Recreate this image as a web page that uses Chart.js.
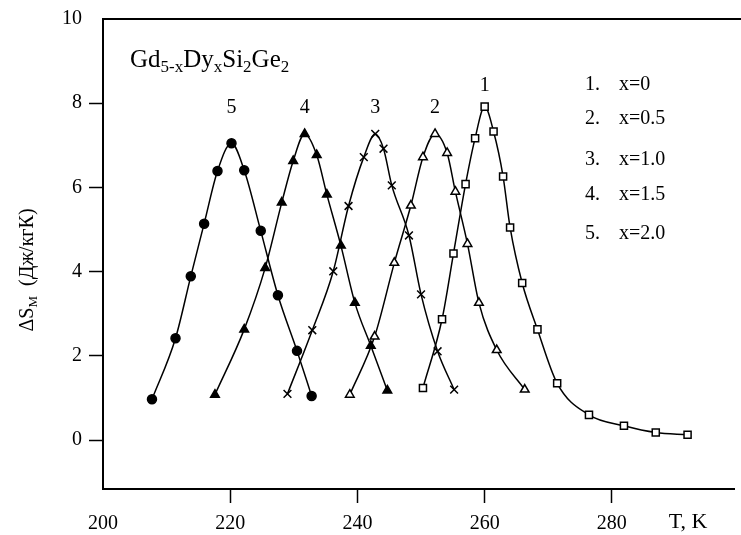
<!DOCTYPE html>
<html><head><meta charset="utf-8">
<script src="https://cdn.jsdelivr.net/npm/chart.js@4/dist/chart.umd.min.js"></script>
<style>html,body{margin:0;padding:0;background:#fff}#wrap{width:741px;height:535px;position:relative}</style>
</head><body><div id="wrap"><canvas id="c"></canvas></div>
<script>
// Data
const seriesNames = ["1", "2", "3", "4", "5"];
const legendNums = ["1.", "2.", "3.", "4.", "5."];
const legendTexts = ["x=0", "x=0.5", "x=1.0", "x=1.5", "x=2.0"];

const T1 = [250.3, 253.3, 255.1, 257.0, 258.5, 260.0, 261.4, 262.9, 264.0, 265.9, 268.3, 271.4, 276.4, 281.9, 286.9, 291.9];
const S1 = [1.24, 2.87, 4.43, 6.08, 7.17, 7.92, 7.33, 6.26, 5.05, 3.73, 2.63, 1.35, 0.60, 0.34, 0.18, 0.13];

const T2 = [238.8, 242.7, 245.8, 248.4, 250.3, 252.2, 254.1, 255.4, 257.3, 259.1, 261.9, 266.3];
const S2 = [1.08, 2.46, 4.21, 5.57, 6.72, 7.27, 6.82, 5.90, 4.66, 3.26, 2.14, 1.20];

const T3 = [229.0, 232.9, 236.2, 238.6, 241.0, 242.8, 244.1, 245.4, 248.1, 250.0, 252.6, 255.2];
const S3 = [1.10, 2.61, 4.01, 5.56, 6.72, 7.27, 6.92, 6.05, 4.86, 3.46, 2.11, 1.20];

const T4 = [217.6, 222.2, 225.5, 228.1, 229.9, 231.7, 233.6, 235.2, 237.4, 239.6, 242.1, 244.7];
const S4 = [1.08, 2.63, 4.09, 5.64, 6.63, 7.27, 6.77, 5.83, 4.62, 3.26, 2.24, 1.18];

const T5 = [207.7, 211.4, 213.8, 215.9, 218.0, 220.2, 222.2, 224.8, 227.5, 230.5, 232.8];
const S5 = [0.97, 2.42, 3.89, 5.14, 6.39, 7.05, 6.41, 4.97, 3.44, 2.12, 1.05];

const xTicks = [200, 220, 240, 260, 280];
const yTicks = [0, 2, 4, 6, 8, 10];

const FONT = "'Liberation Serif', 'DejaVu Serif', serif";

function pts(T, S) { return T.map((t, i) => ({ x: t, y: S[i] })); }

const styles = [
  { pointStyle: 'rect', bg: '#fff', r: 5 },
  { pointStyle: 'triangle', bg: '#fff', r: 5 },
  { pointStyle: 'crossRot', bg: '#fff', r: 5.5 },
  { pointStyle: 'triangle', bg: '#000', r: 5 },
  { pointStyle: 'circle', bg: '#000', r: 4.5 }
];
const allT = [T1, T2, T3, T4, T5];
const allS = [S1, S2, S3, S4, S5];

const datasets = allT.map((T, i) => ({
  label: seriesNames[i],
  data: pts(T, allS[i]),
  showLine: true,
  borderColor: '#000',
  borderWidth: 1.5,
  cubicInterpolationMode: 'monotone',
  pointStyle: styles[i].pointStyle,
  pointRadius: styles[i].r,
  pointBackgroundColor: styles[i].bg,
  pointBorderColor: '#000',
  pointBorderWidth: 1.5
}));

function drawRich(ctx, parts, x, y, align) {
  let w = 0;
  parts.forEach(p => { ctx.font = p.size + 'px ' + FONT; w += ctx.measureText(p.t).width; });
  let cx = align === 'center' ? x - w / 2 : x;
  ctx.textAlign = 'left';
  ctx.textBaseline = 'alphabetic';
  parts.forEach(p => {
    ctx.font = p.size + 'px ' + FONT;
    ctx.fillText(p.t, cx, y + (p.dy || 0));
    cx += ctx.measureText(p.t).width;
  });
}

const decor = {
  id: 'decor',
  afterDraw(chart) {
    const ctx = chart.ctx, a = chart.chartArea;
    const xs = chart.scales.x, ys = chart.scales.y;
    ctx.save();
    ctx.fillStyle = '#000';
    ctx.strokeStyle = '#000';
    // top frame line
    ctx.lineWidth = 2;
    ctx.beginPath();
    ctx.moveTo(a.left - 1, a.top);
    ctx.lineTo(chart.width, a.top);
    ctx.stroke();

    // compound title
    drawRich(ctx, [
      { t: 'Gd', size: 25 }, { t: '5-x', size: 17, dy: 5 },
      { t: 'Dy', size: 25 }, { t: 'x', size: 17, dy: 5 },
      { t: 'Si', size: 25 }, { t: '2', size: 17, dy: 5 },
      { t: 'Ge', size: 25 }, { t: '2', size: 17, dy: 5 }
    ], 130, 67, 'left');

    // curve number labels above peaks
    allT.forEach((T, i) => {
      const S = allS[i];
      let k = 0;
      S.forEach((v, j) => { if (v > S[k]) k = j; });
      const px = xs.getPixelForValue(T[k]);
      const py = Math.min(ys.getPixelForValue(S[k]) - 21, 108);
      ctx.font = '20px ' + FONT;
      ctx.textAlign = 'center';
      ctx.textBaseline = 'middle';
      ctx.fillText(seriesNames[i], px, py);
    });

    // legend text
    const ly = [85, 119, 160, 195, 234];
    ctx.font = '20px ' + FONT;
    ctx.textAlign = 'left';
    ctx.textBaseline = 'middle';
    legendNums.forEach((n, i) => {
      ctx.fillText(n, 585, ly[i]);
      ctx.fillText(legendTexts[i], 619, ly[i]);
    });

    // x axis title
    ctx.font = '22px ' + FONT;
    ctx.textAlign = 'center';
    ctx.textBaseline = 'middle';
    ctx.fillText('T, K', 688, 522);

    // y axis title (rotated)
    ctx.translate(26, 270);
    ctx.rotate(-Math.PI / 2);
    drawRich(ctx, [
      { t: '\u0394S', size: 20 }, { t: 'M', size: 13, dy: 4 },
      { t: '  (\u0414\u0436/\u043a\u0433\u041a)', size: 20 }
    ], 0, 7, 'center');
    ctx.restore();
  }
};

new Chart(document.getElementById('c'), {
  type: 'scatter',
  data: { datasets },
  plugins: [decor],
  options: {
    responsive: true,
    maintainAspectRatio: false,
    animation: false,
    devicePixelRatio: 1,
    layout: { padding: { top: 17, right: 0, bottom: 0, left: 0 } },
    plugins: { legend: { display: false }, tooltip: { enabled: false } },
    scales: {
      x: {
        type: 'linear', min: 200, max: 299.2,
        afterBuildTicks: s => { s.ticks = xTicks.map(v => ({ value: v })); },
        afterFit: s => { s.height = 46; },
        grid: {
          drawOnChartArea: false, drawTicks: true, tickLength: 14, tickWidth: 1.5,
          color: c => (c.tick && c.tick.value === 200) ? 'rgba(0,0,0,0)' : '#000'
        },
        border: { display: true, color: '#000', width: 2 },
        ticks: { color: '#000', font: { family: FONT, size: 20 }, padding: 9, maxRotation: 0, autoSkip: false }
      },
      y: {
        type: 'linear', min: -1.16, max: 10,
        afterBuildTicks: s => { s.ticks = yTicks.map(v => ({ value: v })); },
        afterFit: s => { s.width = 103; },
        grid: {
          drawOnChartArea: false, drawTicks: true, tickLength: 14, tickWidth: 1.5,
          color: c => (c.tick && c.tick.value === 10) ? 'rgba(0,0,0,0)' : '#000'
        },
        border: { display: true, color: '#000', width: 2 },
        ticks: { color: '#000', font: { family: FONT, size: 20 }, padding: 7, autoSkip: false }
      }
    }
  }
});
</script></body></html>
